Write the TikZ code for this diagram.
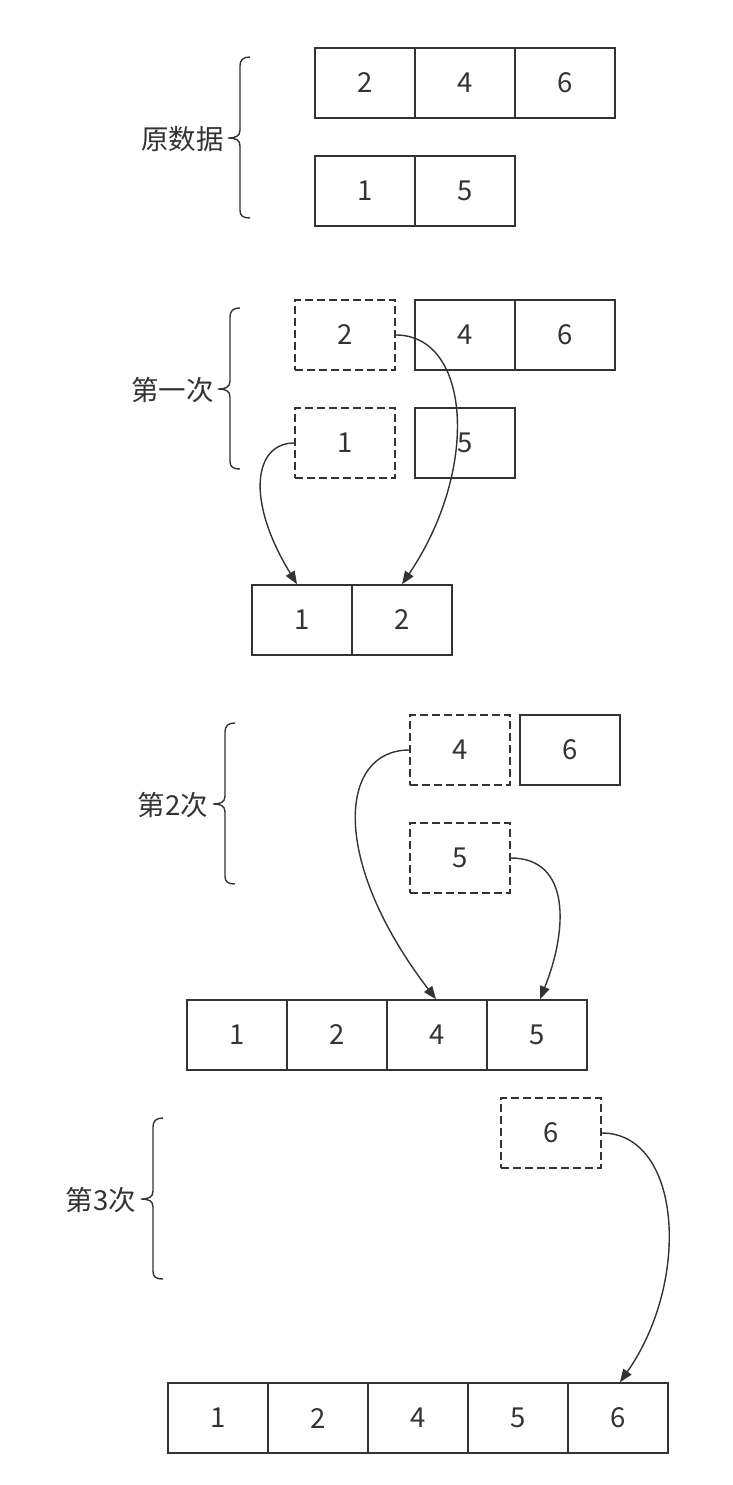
\documentclass[tikz,border=0pt]{standalone}
\usepackage{fontspec}
\setmainfont{Noto Sans CJK SC}
\usetikzlibrary{arrows.meta}
\definecolor{ink}{HTML}{333333}
\begin{document}
\begin{tikzpicture}[x=1pt,y=-1pt,
  every node/.style={font=\fontsize{27.5}{32}\selectfont, text=ink},
  cell/.style={draw=ink, line width=1.5pt, minimum width=100pt, minimum height=70pt, inner sep=0pt},
  dcell/.style={cell, dash pattern=on 8pt off 4pt},
  arr/.style={draw=ink, line width=1.4pt, -{Triangle[length=13pt,width=10pt]}},
  lbl/.style={anchor=east, inner sep=0pt},
  bracepic/.pic={\draw[ink, line width=1.4pt] (22,-81) .. controls (15,-81) and (12,-78) .. (12,-72) -- (12,-8) .. controls (12,-2) and (8,0) .. (0,0) .. controls (8,0) and (12,2) .. (12,8) -- (12,72) .. controls (12,78) and (15,80) .. (22,80);}
]
\useasboundingbox (0,0) rectangle (733,1485);
% raw data
\node[cell] (r2) at (365,83) {2};
\node[cell] (r4) at (465,83) {4};
\node[cell] (r6) at (565,83) {6};
\node[cell] (r1) at (365,191) {1};
\node[cell] (r5) at (465,191) {5};
\pic at (228,138) {bracepic};
\node[lbl] (l0) at (224,139) {原数据};
% first
\node[dcell] (a2) at (345,335) {2};
\node[cell] (a4) at (465,335) {4};
\node[cell] (a6) at (565,335) {6};
\node[dcell] (a1) at (345,443) {1};
\node[cell] (a5) at (465,443) {5};
\pic at (218,389) {bracepic};
\node[lbl] (l1) at (214,390) {第一次};
\node[cell] (b1) at (302,620) {1};
\node[cell] (b2) at (402,620) {2};
\draw[arr] (a2.east) .. controls +(75,0) and +(78,-115) .. (b2.north);
\draw[arr] (a1.west) .. controls +(-40,0) and +(-52,-85) .. ([xshift=-5pt]b1.north);
% second
\node[dcell] (c4) at (460,750) {4};
\node[cell] (c6) at (570,750) {6};
\node[dcell] (c5) at (460,858) {5};
\pic at (213,804) {bracepic};
\node[lbl] (l2) at (208,805) {第2次};
\node[cell] (d1) at (237,1035) {1};
\node[cell] (d2) at (337,1035) {2};
\node[cell] (d4) at (437,1035) {4};
\node[cell] (d5) at (537,1035) {5};
\draw[arr] (c4.west) .. controls +(-70,0) and +(-107,-140) .. ([xshift=-1pt]d4.north);
\draw[arr] (c5.east) .. controls +(60,0) and +(28,-70) .. ([xshift=3pt]d5.north);
% third
\node[dcell] (e6) at (551,1133) {6};
\pic at (141,1199) {bracepic};
\node[lbl] (l3) at (136,1200) {第3次};
\node[cell] (f1) at (218,1418) {1};
\node[cell] (f2) at (318,1418) {2};
\node[cell] (f4) at (418,1418) {4};
\node[cell] (f5) at (518,1418) {5};
\node[cell] (f6) at (618,1418) {6};
\draw[arr] (e6.east) .. controls +(79,0) and +(72,-103) .. ([xshift=2pt]f6.north);
\end{tikzpicture}
\end{document}
